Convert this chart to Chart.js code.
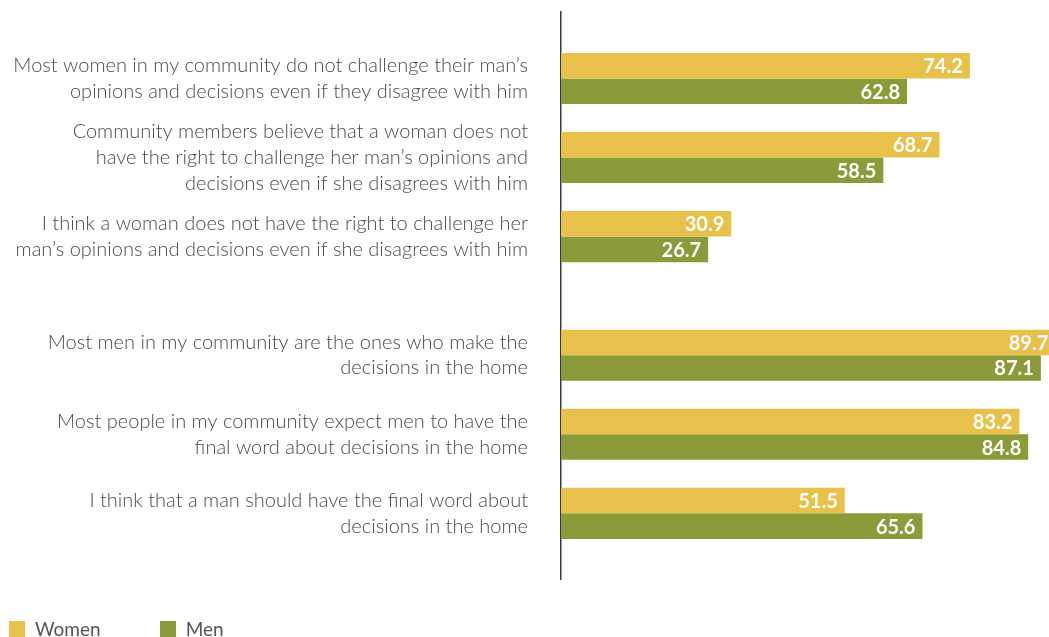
<!DOCTYPE html>
<html>
<head>
<meta charset="utf-8">
<script src="https://cdn.jsdelivr.net/npm/chart.js@4.4.0/dist/chart.umd.min.js"></script>
<style>
  html, body { margin: 0; padding: 0; background: #fff; }
  #wrap { position: relative; width: 1049px; height: 637px; overflow: hidden; }
  #legend { position: absolute; left: 9px; top: 617px; font-family: Lato, sans-serif; font-size: 19px; color: #555; white-space: nowrap; }
  #legend span.item { display: inline-block; margin-right: 59px; }
  #legend i { display: inline-block; width: 16px; height: 16px; margin-right: 10px; vertical-align: -1px; }
</style>
</head>
<body>
<div id="wrap">
  <canvas id="attitudes" width="1049" height="637"></canvas>
  <div id="legend"></div>
</div>
<script>
(function() {
  "use strict";

  // statements (y axis), split into the lines used in the report
  var statements = [
    ["Most women in my community do not challenge their man\u2019s", "opinions and decisions even if they disagree with him"],
    ["Community members believe that a woman does not", "have the right to challenge her man\u2019s opinions and", "decisions even if she disagrees with him"],
    ["I think a woman does not have the right to challenge her", "man\u2019s opinions and decisions even if she disagrees with him"],
    ["Most men in my community are the ones who make the", "decisions in the home"],
    ["Most people in my community expect men to have the", "final word about decisions in the home"],
    ["I think that a man should have the final word about", "decisions in the home"]
  ];
  // row positions: a half-row gap between the two blocks
  var rowPos = [0, 1, 2, 3.5, 4.5, 5.5];

  var women = [74.2, 68.7, 30.9, 89.7, 83.2, 51.5];
  var men   = [62.8, 58.5, 26.7, 87.1, 84.8, 65.6];

  var seriesNames = ["Women", "Men"];
  var seriesColors = ["#E8C14B", "#8B9B3A"];

  function toPoints(vals) {
    return vals.map(function(v, i) { return { x: v, y: rowPos[i] }; });
  }

  // white value labels at the end of each bar
  var valueLabels = {
    id: 'valueLabels',
    afterDatasetsDraw: function(chart) {
      var ctx = chart.ctx;
      ctx.save();
      ctx.font = "bold 20px Lato, sans-serif";
      ctx.fillStyle = "#ffffff";
      ctx.textAlign = "right";
      ctx.textBaseline = "middle";
      chart.data.datasets.forEach(function(ds, di) {
        chart.getDatasetMeta(di).data.forEach(function(bar, i) {
          ctx.fillText(ds.data[i].x.toFixed(1), bar.x - 7, bar.y + 1);
        });
      });
      ctx.restore();
    }
  };

  var ctx = document.getElementById('attitudes').getContext('2d');
  new Chart(ctx, {
    type: 'bar',
    data: {
      datasets: [
        { label: seriesNames[0], data: toPoints(women), backgroundColor: seriesColors[0] },
        { label: seriesNames[1], data: toPoints(men), backgroundColor: seriesColors[1] }
      ]
    },
    options: {
      indexAxis: 'y',
      responsive: false,
      animation: false,
      categoryPercentage: 0.646,
      barPercentage: 1.0,
      layout: { padding: { top: 12, bottom: 58, left: 0, right: 0 } },
      scales: {
        x: {
          type: 'linear',
          display: false,
          min: 0,
          max: 88.57
        },
        y: {
          type: 'linear',
          offset: false,
          reverse: true,
          min: -0.84,
          max: 6.33,
          afterBuildTicks: function(axis) {
            axis.ticks = rowPos.map(function(v) { return { value: v }; });
          },
          afterFit: function(axis) {
            axis.width = 561;
            axis.paddingTop = 0;
            axis.paddingBottom = 0;
          },
          grid: { display: false, drawTicks: false },
          border: { display: true, color: '#3a3a3a', width: 1.5 },
          ticks: {
            padding: 33,
            color: '#4a4a4a',
            font: { family: 'Lato', size: 20, weight: '300', lineHeight: 1.28 },
            callback: function(value, index) { return statements[index]; }
          }
        }
      },
      plugins: {
        legend: { display: false },
        tooltip: { enabled: false }
      }
    },
    plugins: [valueLabels]
  });

  // legend below the chart
  var legend = document.getElementById('legend');
  seriesNames.forEach(function(name, i) {
    var item = document.createElement('span');
    item.className = 'item';
    var box = document.createElement('i');
    box.style.background = seriesColors[i];
    item.appendChild(box);
    item.appendChild(document.createTextNode(name));
    legend.appendChild(item);
  });
})();
</script>
</body>
</html>
